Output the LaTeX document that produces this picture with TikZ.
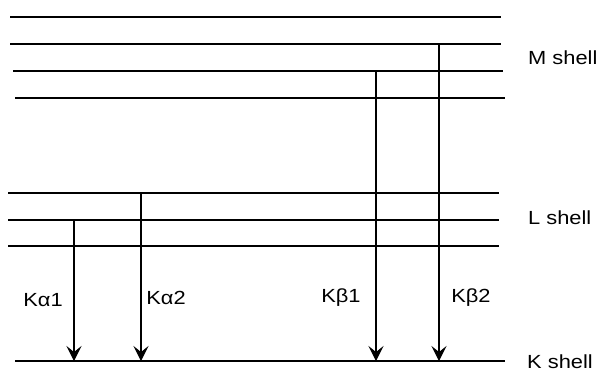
\documentclass[tikz,border=0pt]{standalone}
\usepackage{fontspec}
\setmainfont{Liberation Sans}[FakeStretch=1.15]
\usetikzlibrary{arrows.meta}
\begin{document}
\begin{tikzpicture}[x=1pt,y=-1pt,
  level/.style={line width=1.2pt},
  trans/.style={line width=1.2pt,-{Stealth[length=15pt,width=15pt,inset=6pt]}},
  lbl/.style={font=\fontsize{19}{21}\selectfont,inner sep=0pt}]
\useasboundingbox (0,0) rectangle (600,368);
% M shell levels
\coordinate (m1a) at (10,17);  \coordinate (m1b) at (501,17);
\coordinate (m2a) at (10,44);  \coordinate (m2b) at (501,44);
\coordinate (m3a) at (13,71);  \coordinate (m3b) at (503,71);
\coordinate (m4a) at (15,98);  \coordinate (m4b) at (505,98);
\draw[level] (m1a) -- (m1b);
\draw[level] (m2a) -- (m2b);
\draw[level] (m3a) -- (m3b);
\draw[level] (m4a) -- (m4b);
% L shell levels
\coordinate (l1a) at (8,193);  \coordinate (l1b) at (499,193);
\coordinate (l2a) at (8,220);  \coordinate (l2b) at (499,220);
\coordinate (l3a) at (8,246);  \coordinate (l3b) at (499,246);
\draw[level] (l1a) -- (l1b);
\draw[level] (l2a) -- (l2b);
\draw[level] (l3a) -- (l3b);
% K shell level
\coordinate (ka) at (15,361);  \coordinate (kb) at (505,361);
\draw[level] (ka) -- (kb);
% transitions
\coordinate (a1s) at (74,220);  \coordinate (a1e) at (74,361);
\coordinate (a2s) at (141,193); \coordinate (a2e) at (141,361);
\coordinate (b1s) at (376,71);  \coordinate (b1e) at (376,361);
\coordinate (b2s) at (439,44);  \coordinate (b2e) at (439,361);
\draw[trans] (a1s) -- (a1e);
\draw[trans] (a2s) -- (a2e);
\draw[trans] (b1s) -- (b1e);
\draw[trans] (b2s) -- (b2e);
% labels
\node[lbl] (ta1) at (43,300) {Kα1};
\node[lbl] (ta2) at (166,298) {Kα2};
\node[lbl] (tb1) at (341,298) {Kβ1};
\node[lbl] (tb2) at (471,298) {Kβ2};
\node[lbl,anchor=west] (tm) at (528,58) {M shell};
\node[lbl,anchor=west] (tl) at (528,218) {L shell};
\node[lbl,anchor=west] (tk) at (527,362) {K shell};
\end{tikzpicture}
\end{document}
